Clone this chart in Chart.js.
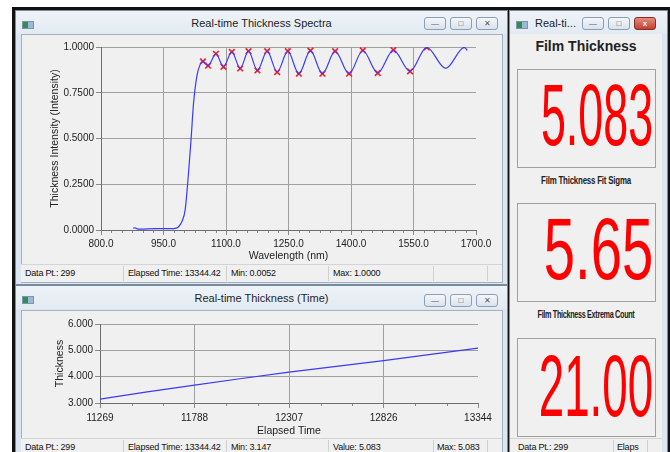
<!DOCTYPE html>
<html>
<head>
<meta charset="utf-8">
<script src="https://cdn.jsdelivr.net/npm/chart.js@4"></script>
<style>
  body { margin:0; width:670px; height:452px; background:#fff; overflow:hidden; position:relative;
         font-family:"Liberation Sans", Arial, sans-serif; color:#222; }
  .back { position:absolute; left:12px; top:7px; right:0; bottom:0; background:#111; }
  .win { position:absolute; background:#dce6f2; border:1px solid #7a8ba0; box-sizing:border-box; }
  .title { position:absolute; left:0; right:0; top:0; height:23px; line-height:24px; text-align:center;
           font-size:11px; color:#1e1e1e; background:linear-gradient(#eef3f8,#e2eaf3); }
  .icon { position:absolute; left:6px; top:10px; width:10px; height:6px; background:linear-gradient(90deg,#2f8f4f 50%,#9fb7d6 50%); border:1px solid #7f93ab; }
  .btn { position:absolute; top:6px; width:22px; height:13px; border:1px solid #8d9db2; border-radius:3px;
         background:linear-gradient(#f4f7fb,#d9e2ec); box-sizing:border-box; font-size:8px; line-height:11px; text-align:center; color:#556; }
  .btn.red { background:linear-gradient(#e58b7f,#c5402f); border-color:#8b2c22; color:#fff; font-weight:bold; }
  .client { position:absolute; background:#f0f0f0; border:1px solid #a7b1bc; box-sizing:border-box; }
  .status { position:absolute; height:17px; font-size:9px; letter-spacing:-0.2px; line-height:17px; background:#f0f0f0; color:#111; }
  .status span { position:absolute; top:0; white-space:nowrap; }
  .sep { position:absolute; top:1px; width:1px; height:15px; background:#d0d0d0; }
  canvas { position:absolute; }
  .box { position:absolute; left:7px; width:139px; height:99px; border:1px solid #a0a0a0; box-sizing:border-box; overflow:hidden; }
  .big { position:absolute; right:2px; top:0px; font-size:88px; line-height:88px; color:#ff0000; transform-origin:100% 50%; white-space:nowrap; }
  .cap { position:absolute; left:0; right:0; text-align:center; font-size:11px; white-space:nowrap; }
</style>
</head>
<body>
<div class="back"></div>

<!-- spectra window -->
<div class="win" style="left:15px;top:10px;width:493px;height:275px;">
  <div class="title">Real-time Thickness Spectra</div>
  <div class="icon"></div>
  <div class="btn" style="left:408px;">&#8212;</div>
  <div class="btn" style="left:434px;">&#9633;</div>
  <div class="btn" style="left:460px;">&#10005;</div>
  <div class="client" style="left:5px;top:23px;width:482px;height:249px;"></div>
</div>
<canvas id="spectraChart" style="left:21px;top:34px;width:481px;height:228px;" width="481" height="228"></canvas>
<div class="status" style="left:21px;top:264px;width:481px;border-top:1px solid #d4d4d4;">
  <span style="left:4px;">Data Pt.: 299</span>
  <div class="sep" style="left:102px;"></div>
  <span style="left:107px;">Elapsed Time: 13344.42</span>
  <div class="sep" style="left:205px;"></div>
  <span style="left:210px;">Min: 0.0052</span>
  <div class="sep" style="left:307px;"></div>
  <span style="left:312px;">Max: 1.0000</span>
  <div class="sep" style="left:412px;"></div>
  <div class="sep" style="left:466px;"></div>
</div>

<!-- time window -->
<div class="win" style="left:15px;top:285px;width:493px;height:180px;">
  <div class="title">Real-time Thickness (Time)</div>
  <div class="icon"></div>
  <div class="btn" style="left:408px;top:8px;">&#8212;</div>
  <div class="btn" style="left:434px;top:8px;">&#9633;</div>
  <div class="btn" style="left:460px;top:8px;">&#10005;</div>
  <div class="client" style="left:5px;top:24px;width:482px;height:160px;"></div>
</div>
<canvas id="timeChart" style="left:21px;top:311px;width:481px;height:126px;" width="481" height="126"></canvas>
<div class="status" style="left:21px;top:438px;width:481px;border-top:1px solid #d4d4d4;">
  <span style="left:4px;">Data Pt.: 299</span>
  <div class="sep" style="left:102px;"></div>
  <span style="left:107px;">Elapsed Time: 13344.42</span>
  <div class="sep" style="left:205px;"></div>
  <span style="left:210px;">Min: 3.147</span>
  <div class="sep" style="left:307px;"></div>
  <span style="left:312px;">Value: 5.083</span>
  <div class="sep" style="left:412px;"></div>
  <span style="left:416px;">Max: 5.083</span>
  <div class="sep" style="left:466px;"></div>
</div>

<!-- readout window -->
<div class="win" style="left:509px;top:10px;width:159px;height:450px;">
  <div class="title" style="text-align:left;padding-left:25px;">Real-ti...</div>
  <div class="icon"></div>
  <div class="btn" style="left:72px;">&#8212;</div>
  <div class="btn" style="left:98px;">&#9633;</div>
  <div class="btn red" style="left:124px;">x</div>
  <div class="client" style="left:0px;top:23px;width:152px;height:408px;border:none;">
    <div class="cap" style="top:4px;font-size:14px;font-weight:bold;">Film Thickness</div>
    <div class="box" style="top:35px;"><div class="big" style="top:1px;transform:scaleX(0.51);">5.083</div></div>
    <div class="cap" style="top:140px;transform:scaleX(0.72);font-weight:bold;letter-spacing:-0.3px;">Film Thickness Fit Sigma</div>
    <div class="box" style="top:169px;"><div class="big" style="top:1px;transform:scaleX(0.64);">5.65</div></div>
    <div class="cap" style="top:274px;transform:scaleX(0.66);font-weight:bold;letter-spacing:-0.5px;">Film Thickness Extrema Count</div>
    <div class="box" style="top:304px;"><div class="big" style="top:3px;transform:scaleX(0.52);">21.00</div></div>
  </div>
</div>
<div class="status" style="left:510px;top:438px;width:152px;border-top:1px solid #d4d4d4;">
  <span style="left:8px;">Data Pt.: 299</span>
  <div class="sep" style="left:103px;"></div>
  <span style="left:107px;">Elaps</span>
  <div class="sep" style="left:137px;"></div>
</div>

<script>
// spectrum curve
const wavelength = [877, 881, 887, 895, 930, 975, 985, 994, 1002, 1010, 1016, 1022, 1030, 1038,
  1044.6, 1057, 1075.8, 1094, 1114, 1134, 1154, 1175.5, 1198.8, 1222.8, 1248.4, 1274.8, 1302.6,
  1331.4, 1361.8, 1395.4, 1428.3, 1464.2, 1501.7, 1541.7, 1581.7, 1627.3, 1672, 1679];
const intensity = [0.010, 0.012, 0.006, 0.005, 0.008, 0.008, 0.015, 0.045, 0.11, 0.31, 0.49, 0.69, 0.84, 0.905,
  0.921, 0.898, 0.963, 0.892, 0.973, 0.883, 0.977, 0.872, 0.977, 0.863, 0.977, 0.854, 0.980,
  0.854, 0.977, 0.854, 0.981, 0.858, 0.983, 0.867, 0.998, 0.883, 0.998, 0.981];

// extrema found by the fit (red crosses)
const extremaWl = [1044.6, 1057, 1075.8, 1094, 1114, 1134, 1154, 1175.5, 1198.8, 1222.8, 1248.4,
  1274.8, 1302.6, 1331.4, 1361.8, 1395.4, 1428.3, 1464.2, 1501.7, 1541.7, 1581.7];
const extremaI = [0.921, 0.898, 0.963, 0.892, 0.973, 0.883, 0.977, 0.872, 0.977, 0.863, 0.977,
  0.854, 0.980, 0.854, 0.977, 0.854, 0.981, 0.858, 0.983, 0.867, 0.998];

// thickness vs elapsed time
const elapsed = [11269, 11528, 11788, 12047, 12307, 12566, 12826, 13085, 13344];
const thickness = [3.147, 3.42, 3.68, 3.93, 4.17, 4.39, 4.61, 4.85, 5.083];
const timeTicks = [11269, 11788, 12307, 12826, 13344];

Chart.defaults.font.family = '"Liberation Sans", Arial, sans-serif';
Chart.defaults.font.size = 10;
Chart.defaults.color = '#222';

const gridGray = '#a0a0a0';
const lineBlue = '#3a3aff';

// small ticks between the labelled ones
const minorTicks = {
    id: 'minorTicks',
    afterDraw(chart, args, opts) {
        const sc = chart.scales.x;
        const ctx = chart.ctx;
        const major = sc.ticks.map(t => t.value);
        ctx.save();
        ctx.strokeStyle = '#8a8a8a';
        ctx.lineWidth = 1;
        for (let i = 0; i < major.length - 1; i++) {
            for (let k = 1; k < opts.div; k++) {
                const v = major[i] + (major[i + 1] - major[i]) * k / opts.div;
                const px = Math.round(sc.getPixelForValue(v)) + 0.5;
                ctx.beginPath();
                ctx.moveTo(px, sc.top + 1);
                ctx.lineTo(px, sc.top + 3);
                ctx.stroke();
            }
        }
        ctx.restore();
    }
};

function yAxisWidth(w) {
    return function (scale) { scale.width = w; };
}
function xAxisHeight(h) {
    return function (scale) { scale.height = h; };
}

new Chart(document.getElementById('spectraChart'), {
    type: 'scatter',
    data: {
        datasets: [
            {
                data: wavelength.map((w, i) => ({ x: w, y: intensity[i] })),
                showLine: true,
                borderColor: lineBlue,
                borderWidth: 1.2,
                pointRadius: 0,
                cubicInterpolationMode: 'monotone'
            },
            {
                data: extremaWl.map((w, i) => ({ x: w, y: extremaI[i] })),
                showLine: false,
                pointStyle: 'crossRot',
                pointRadius: 4,
                borderColor: '#ff1a1a',
                borderWidth: 1.6
            }
        ]
    },
    options: {
        responsive: false,
        animation: false,
        layout: { padding: { left: 28, top: 13, right: 26, bottom: 0 } },
        plugins: { legend: { display: false }, tooltip: { enabled: false }, minorTicks: { div: 6 } },
        scales: {
            x: {
                type: 'linear', min: 800, max: 1700,
                afterFit: xAxisHeight(32),
                ticks: { stepSize: 150, padding: 3, maxRotation: 0, callback: v => v.toFixed(1) },
                grid: {
                    color: ctx => (ctx.index === 0 || ctx.tick && ctx.tick.value === 1700) ? 'rgba(0,0,0,0)' : gridGray,
                    tickColor: '#8a8a8a', tickLength: 5, lineWidth: 1
                },
                border: { color: '#6e6e6e' },
                title: { display: true, text: 'Wavelength (nm)', padding: { top: 0, bottom: 0 }, font: { size: 10.5 } }
            },
            y: {
                min: 0, max: 1,
                afterFit: yAxisWidth(52),
                ticks: { stepSize: 0.25, padding: 2, callback: v => v.toFixed(4) },
                grid: {
                    color: ctx => ctx.index === 0 ? 'rgba(0,0,0,0)' : gridGray,
                    tickColor: '#8a8a8a', tickLength: 5, lineWidth: 1
                },
                border: { color: '#6e6e6e' },
                title: { display: true, text: 'Thickness Intensity (Intensity)', padding: { top: 0, bottom: 0 }, font: { size: 10.5 } }
            }
        }
    },
    plugins: [minorTicks]
});

new Chart(document.getElementById('timeChart'), {
    type: 'scatter',
    data: {
        datasets: [{
            data: elapsed.map((t, i) => ({ x: t, y: thickness[i] })),
            showLine: true,
            borderColor: lineBlue,
            borderWidth: 1.2,
            pointRadius: 0
        }]
    },
    options: {
        responsive: false,
        animation: false,
        layout: { padding: { left: 33, top: 13, right: 24, bottom: 0 } },
        plugins: { legend: { display: false }, tooltip: { enabled: false }, minorTicks: { div: 3 } },
        scales: {
            x: {
                type: 'linear', min: timeTicks[0], max: timeTicks[timeTicks.length - 1],
                afterFit: xAxisHeight(34),
                afterBuildTicks: scale => { scale.ticks = timeTicks.map(v => ({ value: v })); },
                ticks: { padding: 4, maxRotation: 0, autoSkip: false, callback: v => String(v) },
                grid: {
                    color: ctx => (ctx.index === 0 || ctx.index === timeTicks.length - 1) ? 'rgba(0,0,0,0)' : gridGray,
                    tickColor: '#8a8a8a', tickLength: 5, lineWidth: 1
                },
                border: { color: '#6e6e6e' },
                title: { display: true, text: 'Elapsed Time', padding: { top: 0, bottom: 0 }, font: { size: 10.5 } }
            },
            y: {
                min: 3, max: 6,
                afterFit: yAxisWidth(46),
                ticks: { stepSize: 1, padding: 2, callback: v => v.toFixed(3) },
                grid: {
                    color: ctx => ctx.index === 0 ? 'rgba(0,0,0,0)' : gridGray,
                    tickColor: '#8a8a8a', tickLength: 5, lineWidth: 1
                },
                border: { color: '#6e6e6e' },
                title: { display: true, text: 'Thickness', padding: { top: 0, bottom: 0 }, font: { size: 10.5 } }
            }
        }
    },
    plugins: [minorTicks]
});
</script>
</body>
</html>
